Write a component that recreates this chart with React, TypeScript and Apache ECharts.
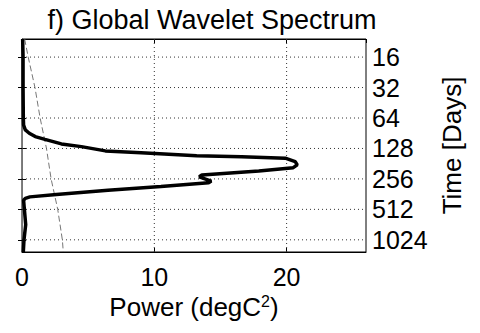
import React, { useEffect, useRef } from "react";
import * as echarts from "echarts";

const periodDays = [10.6, 16, 32, 64, 75.1, 83.9, 90.5, 97.7, 104, 115.4, 122.8, 135.3, 141, 151.2, 154.3, 159.8, 172.5, 186.1, 198.1, 213.8, 234, 243.9, 268.7, 280.1, 304.4, 330.8, 364.6, 385.3, 398.9, 416, 512, 724, 1024, 1351];
const globalPower = [0.05, 0.08, 0.08, 0.1, 0.12, 0.25, 0.55, 1.0, 1.73, 2.98, 4.49, 6.3, 9.0, 13.2, 16.6, 19.9, 20.65, 20.8, 20.5, 17.9, 13.6, 13.4, 14.3, 14.1, 10.5, 6.5, 2.6, 0.6, 0.25, 0.12, 0.18, 0.28, 0.15, 0.1];

const sigPeriod = [10.6, 16, 32, 64, 128, 256, 512, 1024, 1351];
const sigPower = [0.2, 0.47, 0.98, 1.37, 1.85, 2.2, 2.7, 3.05, 3.12];

const periodTicks = [16, 32, 64, 128, 256, 512, 1024];
const powerGridTicks = [10, 20];
const powerMax = 26;

const FONT = "'Liberation Sans', Arial, Helvetica, sans-serif";

export default function App() {
  const ref = useRef<HTMLDivElement>(null);
  useEffect(() => {
    if (!ref.current) return;
    const chart = echarts.init(ref.current, undefined, { renderer: "svg" });
    const lg = (v: number) => Math.log2(v);
    const yMin = lg(periodDays[0]);
    const yMax = lg(periodDays[periodDays.length - 1]);
    const tickLog = periodTicks.map(lg);
    const gridStyle = { color: "#333", type: [1, 3], width: 1 };
    const gridSeries = [
      ...powerGridTicks.map((v) => ({
        type: "line",
        data: [[v, yMin], [v, yMax]],
        showSymbol: false,
        symbol: "none",
        silent: true,
        lineStyle: gridStyle,
        z: 1,
      })),
      ...tickLog.map((v) => ({
        type: "line",
        data: [[0, v], [powerMax, v]],
        showSymbol: false,
        symbol: "none",
        silent: true,
        lineStyle: gridStyle,
        z: 1,
      })),
    ];
    const option: any = {
      animation: false,
      backgroundColor: "#fff",
      graphic: [
        {
          type: "text",
          x: 212,
          y: 6,
          style: { text: "f) Global Wavelet Spectrum", font: `27px ${FONT}`, fill: "#000", textAlign: "center", textVerticalAlign: "top" },
        },
      ],
      grid: { left: 22, right: 114, top: 39, bottom: 81, show: true, borderColor: "#000", borderWidth: 1, backgroundColor: "transparent" },
      xAxis: [
        {
          type: "value",
          min: 0,
          max: powerMax,
          interval: 10,
          position: "bottom",
          axisLine: { show: true, lineStyle: { color: "#000", width: 1 } },
          axisTick: { show: true, inside: true, length: 4, lineStyle: { color: "#000" } },
          axisLabel: { fontSize: 25, fontFamily: FONT, color: "#000", margin: 12, showMaxLabel: false },
          splitLine: { show: false },
          name: "Power (degC{sup|2})",
          nameLocation: "middle",
          nameGap: 40,
          nameTextStyle: {
            fontSize: 26,
            fontFamily: FONT,
            color: "#000",
            rich: { sup: { fontSize: 16, fontFamily: FONT, color: "#000", verticalAlign: "top", padding: [0, 0, 10, 0] } },
          },
        },
        {
          type: "value",
          min: 0,
          max: powerMax,
          interval: 10,
          position: "top",
          axisLine: { show: true, lineStyle: { color: "#000" } },
          axisTick: { show: true, inside: true, length: 4, lineStyle: { color: "#000" } },
          axisLabel: { show: false },
          splitLine: { show: false },
        },
      ],
      yAxis: [
        {
          type: "value",
          inverse: true,
          min: yMin,
          max: yMax,
          position: "right",
          axisLine: { show: true, lineStyle: { color: "#000" } },
          axisTick: { show: true, inside: true, length: 4, customValues: tickLog, lineStyle: { color: "#000" } },
          axisLabel: {
            customValues: tickLog,
            formatter: (v: number) => String(Math.round(Math.pow(2, v))),
            fontSize: 25,
            fontFamily: FONT,
            color: "#000",
            margin: 6,
          },
          splitLine: { show: false },
          name: "Time [Days]",
          nameLocation: "middle",
          nameRotate: 90,
          nameGap: 72,
          nameTextStyle: { fontSize: 26, fontFamily: FONT, color: "#000" },
        },
        {
          type: "value",
          inverse: true,
          min: yMin,
          max: yMax,
          position: "left",
          axisLine: { show: true, lineStyle: { color: "#777" } },
          axisTick: { show: true, inside: true, length: 4, customValues: tickLog, lineStyle: { color: "#000" } },
          axisLabel: { show: false },
          splitLine: { show: false },
        },
      ],
      series: [
        ...gridSeries,
        {
          type: "line",
          data: sigPeriod.map((p, i) => [sigPower[i], lg(p)]),
          showSymbol: false,
          symbol: "none",
          lineStyle: { color: "#777", width: 1, type: [6, 3] },
          z: 2,
        },
        {
          type: "line",
          data: periodDays.map((p, i) => [globalPower[i], lg(p)]),
          showSymbol: false,
          symbol: "none",
          lineStyle: { color: "#000", width: 3.5 },
          z: 3,
        },
      ],
    };
    chart.setOption(option);
    return () => chart.dispose();
  }, []);
  return <div ref={ref} style={{ width: 480, height: 333, position: "absolute", left: 0, top: 0 }} />;
}
